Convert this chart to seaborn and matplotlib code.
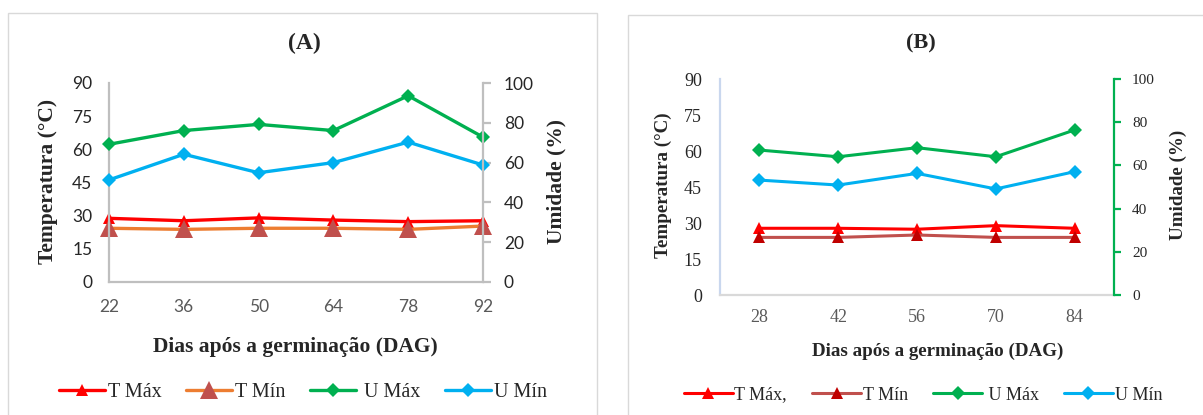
import matplotlib
matplotlib.use("Agg")
import matplotlib.pyplot as plt
from matplotlib.patches import Rectangle
import seaborn as sns
import pandas as pd

# Panel A: climate readings by days after germination
dag_a = [22, 36, 50, 64, 78, 92]
tmax_a = [28.8, 27.7, 29.0, 28.0, 27.3, 27.7]
tmin_a = [24.3, 23.8, 24.3, 24.3, 23.8, 25.3]
umax_a = [69.2, 76.1, 79.2, 76.1, 93.6, 72.8]
umin_a = [51.3, 64.2, 54.9, 60.0, 70.3, 58.8]

# Panel B
dag_b = ["28", "42", "56", "70", "84"]
tmax_b = [27.8, 27.8, 27.4, 28.9, 27.8]
tmin_b = [24.0, 24.0, 25.0, 24.0, 24.0]
umax_b = [67.1, 64.0, 68.2, 64.0, 76.4]
umin_b = [53.2, 50.9, 56.3, 49.1, 57.1]

temp_ticks = [0, 15, 30, 45, 60, 75, 90]
hum_ticks = [0, 20, 40, 60, 80, 100]

sns.set_theme(style="white")
plt.rcParams["font.family"] = ["Liberation Serif", "DejaVu Serif"]

W, H = 1203, 415
fig = plt.figure(figsize=(W / 100, H / 100), dpi=100)

def fx(px):
    return px / W

def fy(py):
    return 1 - py / H

# panel frames
for x0, x1, y0 in [(8, 597, 13), (628, 1206, 15)]:
    fig.add_artist(Rectangle((fx(x0), fy(430)), fx(x1 - x0), (430 - y0) / H,
                             transform=fig.transFigure, fill=False,
                             edgecolor="#D9D9D9", linewidth=1.0))

RED = "#FF0000"
ORANGE = "#ED7D31"
BRICK = "#C0504D"
GREEN = "#00B050"
CYAN = "#00B0F0"
DARKRED = "#C00000"
GRAY_TXT = "#595959"
SPINE = "#BFBFBF"
SANS = ["Lato", "DejaVu Sans"]

# ---------------- Panel A ----------------
axA = fig.add_axes([fx(109), fy(282), fx(483 - 109), (282 - 83) / H])
axA2 = axA.twinx()
dfA = pd.DataFrame({"dag": dag_a, "tmax": tmax_a, "tmin": tmin_a,
                    "umax": umax_a, "umin": umin_a})
sns.lineplot(data=dfA, x="dag", y="tmax", ax=axA, color=RED, lw=2.4,
             marker="^", markersize=8, markeredgewidth=0, label="T Máx", legend=False, clip_on=False)
sns.lineplot(data=dfA, x="dag", y="tmin", ax=axA, color=ORANGE, lw=2.4,
             marker="^", markersize=13, markerfacecolor=BRICK, markeredgewidth=0,
             label="T Mín", legend=False, clip_on=False)
sns.lineplot(data=dfA, x="dag", y="umax", ax=axA2, color=GREEN, lw=2.4,
             marker="D", markersize=7, markeredgewidth=0, label=" U Máx", legend=False, clip_on=False)
sns.lineplot(data=dfA, x="dag", y="umin", ax=axA2, color=CYAN, lw=2.4,
             marker="D", markersize=7, markeredgewidth=0, label="U Mín", legend=False, clip_on=False)

axA.set_xlim(22, 92)
axA.set_xticks(dag_a)
axA.set_ylim(0, 90)
axA.set_yticks(temp_ticks)
axA2.set_ylim(0, 100)
axA2.set_yticks(hum_ticks)
for ax in (axA, axA2):
    for s in ax.spines.values():
        s.set_visible(False)
axA.spines["left"].set_visible(True)
axA.spines["bottom"].set_visible(True)
axA2.spines["right"].set_visible(True)
for s in (axA.spines["left"], axA.spines["bottom"], axA2.spines["right"]):
    s.set_color(SPINE)
    s.set_linewidth(1.6)
axA.tick_params(axis="both", length=0, labelsize=12.5, labelcolor="#262626", pad=12)
axA.tick_params(axis="x", pad=12, labelcolor=GRAY_TXT)
axA2.tick_params(axis="y", length=6, width=1.6, color=SPINE, labelsize=12.5,
                 labelcolor="#262626", pad=9, direction="out", right=True)
for lab in axA.get_xticklabels() + axA.get_yticklabels() + axA2.get_yticklabels():
    lab.set_family(SANS)
axA.set_xlabel("Dias após a germinação (DAG)", fontsize=15.5, fontweight="bold")
axA.xaxis.set_label_coords(0.497, -0.276)
axA.set_ylabel("Temperatura (°C)", fontsize=15.5, fontweight="bold")
axA.yaxis.set_label_coords(-0.136, 0.503)
axA2.set_ylabel("Umidade (%)", fontsize=15.5, fontweight="bold", rotation=90)
axA2.yaxis.set_label_coords(1.171, 0.503)
fig.text(fx(304), fy(43), "(A)", ha="center", va="center", fontsize=17, fontweight="bold")

hA = axA.get_lines() + axA2.get_lines()
fig.legend(hA, [h.get_label() for h in hA], loc="center", bbox_to_anchor=(fx(303), fy(392)),
           ncol=4, frameon=False, fontsize=14.5, handlelength=2.3, handletextpad=0.15,
           columnspacing=1.2, borderaxespad=0)

# ---------------- Panel B ----------------
axB = fig.add_axes([fx(720), fy(295), fx(1114 - 720), (295 - 79) / H])
axB2 = axB.twinx()
dfB = pd.DataFrame({"dag": dag_b, "tmax": tmax_b, "tmin": tmin_b,
                    "umax": umax_b, "umin": umin_b})
sns.lineplot(data=dfB, x="dag", y="tmax", ax=axB, color=RED, lw=2.2,
             marker="^", markersize=8, markeredgewidth=0, label="T Máx,", legend=False)
sns.lineplot(data=dfB, x="dag", y="tmin", ax=axB, color=BRICK, lw=2.2,
             marker="^", markersize=8, markerfacecolor=DARKRED, markeredgewidth=0,
             label="T Mín", legend=False)
sns.lineplot(data=dfB, x="dag", y="umax", ax=axB2, color=GREEN, lw=2.2,
             marker="D", markersize=7, markeredgewidth=0, label=" U Máx", legend=False)
sns.lineplot(data=dfB, x="dag", y="umin", ax=axB2, color=CYAN, lw=2.2,
             marker="D", markersize=7, markeredgewidth=0, label="U Mín", legend=False)

axB.set_xlim(-0.5, len(dag_b) - 0.5)
axB.set_ylim(0, 90)
axB.set_yticks(temp_ticks)
axB2.set_ylim(0, 100)
axB2.set_yticks(hum_ticks)
for ax in (axB, axB2):
    for s in ax.spines.values():
        s.set_visible(False)
axB.spines["left"].set_visible(True)
axB.spines["left"].set_color("#C9D7EE")
axB.spines["left"].set_linewidth(1.6)
axB.spines["bottom"].set_visible(True)
axB.spines["bottom"].set_color("#D9D9D9")
axB.spines["bottom"].set_linewidth(1.6)
axB2.spines["right"].set_visible(True)
axB2.spines["right"].set_color(GREEN)
axB2.spines["right"].set_linewidth(1.6)
axB.tick_params(axis="both", length=0, labelsize=13, labelcolor="#262626", pad=13)
axB.tick_params(axis="x", pad=10, labelcolor=GRAY_TXT)
axB2.tick_params(axis="y", length=5, width=1.6, color=GREEN, labelsize=11,
                 labelcolor="#262626", pad=8, direction="out", right=True)
axB.set_xlabel("Dias após a germinação (DAG)", fontsize=13.7, fontweight="bold")
axB.xaxis.set_label_coords(0.553, -0.222)
axB.set_ylabel("Temperatura (°C)", fontsize=13.7, fontweight="bold")
axB.yaxis.set_label_coords(-0.122, 0.509)
axB2.set_ylabel("Umidade (%)", fontsize=13.7, fontweight="bold", rotation=90)
axB2.yaxis.set_label_coords(1.142, 0.509)
fig.text(fx(921), fy(43), "(B)", ha="center", va="center", fontsize=16, fontweight="bold")

hB = axB.get_lines() + axB2.get_lines()
fig.legend(hB, [h.get_label() for h in hB], loc="center", bbox_to_anchor=(fx(923), fy(395)),
           ncol=4, frameon=False, fontsize=13, handlelength=2.7, handletextpad=0.1,
           columnspacing=1.4, borderaxespad=0)

fig.savefig("out.png", dpi=100)
